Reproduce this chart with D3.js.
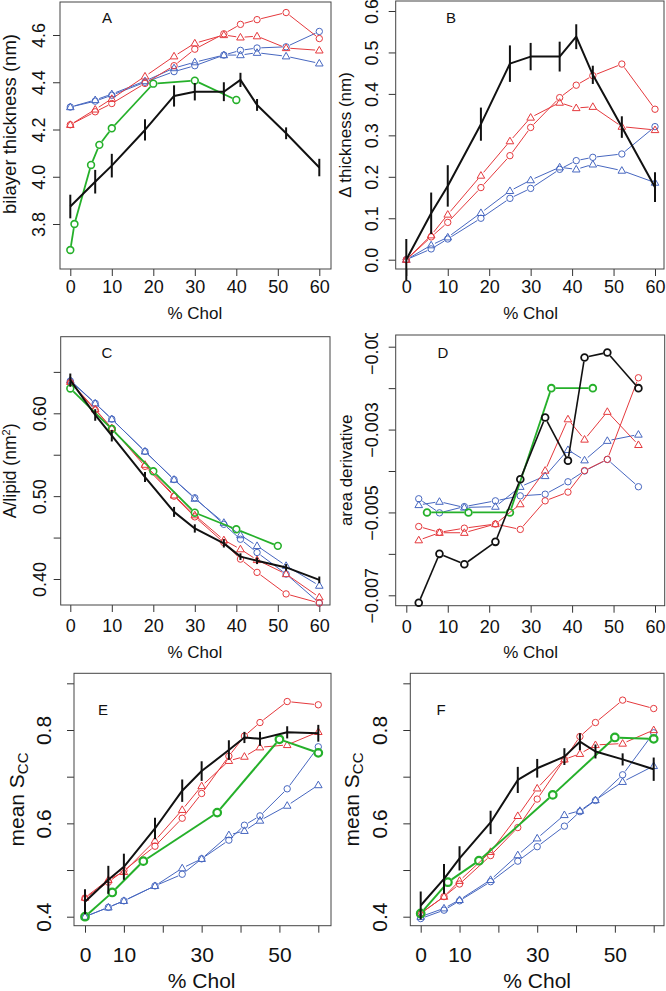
<!DOCTYPE html>
<html><head><meta charset="utf-8">
<script src="https://cdn.jsdelivr.net/npm/d3@7/dist/d3.min.js"></script>
<style>body{margin:0;background:#fff}svg{display:block}text{font-family:"Liberation Sans",Arial,sans-serif;fill:#111}</style>
</head><body>
<script>
// ---------------- DATA ----------------
const xMain = [0, 6, 10, 18, 25, 30, 37, 41, 45, 52, 60];
const xDeriv = [3, 8, 14, 21.5, 27.5, 33.5, 39, 43, 48.5, 56];

// Panel A: bilayer thickness (nm)
const aRedCirc  = [4.22, 4.275, 4.31, 4.395, 4.47, 4.54, 4.605, 4.645, 4.665, 4.695, 4.585];
const aRedTri   = [4.22, 4.285, 4.33, 4.425, 4.51, 4.565, 4.60, 4.59, 4.595, 4.545, 4.535];
const aBlueCirc = [4.295, 4.32, 4.345, 4.40, 4.445, 4.47, 4.515, 4.535, 4.545, 4.55, 4.615];
const aBlueTri  = [4.295, 4.325, 4.35, 4.405, 4.46, 4.485, 4.515, 4.515, 4.525, 4.51, 4.48];
const aBlack    = [3.874, 3.979, 4.047, 4.198, 4.342, 4.36, 4.36, 4.41, 4.304, 4.184, 4.039];
const aBlackErr = [0.05, 0.05, 0.05, 0.045, 0.045, 0.037, 0.04, 0.03, 0.025, 0.025, 0.037];
const aGreenX   = [0, 1, 5, 7, 10, 20, 30, 40];
const aGreen    = [3.69, 3.80, 4.05, 4.135, 4.205, 4.394, 4.407, 4.325];

// Panel B: delta thickness (nm)
const bRedCirc  = [0, 0.055, 0.09, 0.174, 0.251, 0.319, 0.391, 0.421, 0.444, 0.472, 0.363];
const bRedTri   = [0, 0.059, 0.109, 0.203, 0.286, 0.343, 0.379, 0.366, 0.369, 0.321, 0.313];
const bBlueCirc = [0, 0.026, 0.05, 0.10, 0.148, 0.172, 0.218, 0.239, 0.247, 0.255, 0.321];
const bBlueTri  = [0, 0.035, 0.054, 0.113, 0.166, 0.192, 0.223, 0.218, 0.23, 0.215, 0.186];
const bBlack    = [0, 0.112, 0.178, 0.327, 0.473, 0.49, 0.49, 0.538, 0.446, 0.32, 0.175];
const bBlackErr = [0.05, 0.05, 0.05, 0.04, 0.044, 0.033, 0.036, 0.03, 0.022, 0.026, 0.036];

// Panel C: area per lipid (nm^2)
const cRedCirc  = [0.637, 0.604, 0.582, 0.536, 0.50, 0.475, 0.444, 0.424, 0.408, 0.382, 0.371];
const cRedTri   = [0.638, 0.605, 0.582, 0.538, 0.501, 0.477, 0.447, 0.436, 0.423, 0.406, 0.378];
const cBlueCirc = [0.639, 0.612, 0.593, 0.554, 0.52, 0.498, 0.466, 0.448, 0.432, 0.406, 0.371];
const cBlueTri  = [0.640, 0.612, 0.593, 0.554, 0.52, 0.497, 0.468, 0.453, 0.44, 0.416, 0.392];
const cBlack    = [0.64, 0.598, 0.573, 0.523, 0.481, 0.461, 0.443, 0.427, 0.422, 0.414, 0.399];
const cBlackErr = [0.008, 0.007, 0.007, 0.006, 0.006, 0.005, 0.005, 0.004, 0.004, 0.004, 0.004];
const cGreenX   = [0, 10, 20, 30, 40, 50];
const cGreen    = [0.630, 0.581, 0.530, 0.48, 0.46, 0.44];

// Panel D: area derivative
const dRedCirc  = [-0.00534, -0.00548, -0.00538, -0.00528, -0.00541, -0.00472, -0.00451, -0.00399, -0.00372, -0.00175];
const dRedTri   = [-0.00567, -0.00549, -0.00549, -0.00528, -0.0048, -0.00399, -0.00275, -0.00324, -0.00257, -0.00337];
const dBlueCirc = [-0.00467, -0.00501, -0.00486, -0.00472, -0.0046, -0.00456, -0.00426, -0.004, -0.00372, -0.00438];
const dBlueTri  = [-0.00482, -0.00474, -0.00488, -0.00486, -0.00438, -0.00412, -0.00349, -0.00374, -0.00327, -0.00312];
const dBlack    = [-0.00718, -0.0060, -0.00625, -0.00571, -0.0042, -0.00271, -0.00375, -0.00126, -0.00114, -0.0020];
const dGreenX   = [5, 15, 25, 35, 45];
const dGreen    = [-0.005, -0.005, -0.005, -0.002, -0.002];

// Panel E: mean Scc
const eRedCirc  = [0.44, 0.474, 0.499, 0.551, 0.611, 0.664, 0.744, 0.787, 0.816, 0.861, 0.854];
const eRedTri   = [0.441, 0.479, 0.496, 0.563, 0.629, 0.68, 0.734, 0.743, 0.763, 0.768, 0.796];
const eBlueCirc = [0.40, 0.42, 0.434, 0.466, 0.491, 0.524, 0.564, 0.596, 0.616, 0.674, 0.764];
const eBlueTri  = [0.40, 0.42, 0.434, 0.466, 0.504, 0.524, 0.575, 0.584, 0.606, 0.638, 0.682];
const eBlack    = [0.432, 0.479, 0.507, 0.589, 0.67, 0.712, 0.757, 0.784, 0.781, 0.795, 0.793];
const eBlackErr = [0.027, 0.03, 0.028, 0.023, 0.024, 0.021, 0.021, 0.012, 0.015, 0.013, 0.018];
const eGreenX   = [0, 7, 15, 34, 50, 60];
const eGreen    = [0.40, 0.452, 0.519, 0.623, 0.78, 0.751];

// Panel F: mean Scc
const fRedCirc  = [0.407, 0.443, 0.47, 0.531, 0.591, 0.652, 0.737, 0.786, 0.816, 0.864, 0.846];
const fRedTri   = [0.407, 0.443, 0.477, 0.539, 0.616, 0.675, 0.737, 0.749, 0.768, 0.771, 0.80];
const fBlueCirc = [0.396, 0.414, 0.434, 0.475, 0.519, 0.55, 0.594, 0.625, 0.649, 0.704, 0.794];
const fBlueTri  = [0.40, 0.418, 0.436, 0.479, 0.532, 0.568, 0.618, 0.627, 0.65, 0.689, 0.723];
const fBlack    = [0.424, 0.481, 0.525, 0.602, 0.693, 0.718, 0.743, 0.775, 0.754, 0.737, 0.716];
const fBlackErr = [0.03, 0.032, 0.026, 0.025, 0.028, 0.02, 0.018, 0.018, 0.015, 0.013, 0.025];
const fGreenX   = [0, 7, 15, 34, 50, 60];
const fGreen    = [0.407, 0.474, 0.52, 0.661, 0.784, 0.781];

// tick definitions
const xTicksAll = [0, 10, 20, 30, 40, 50, 60];
const xLabelsE = [0, 10, 30, 50];
const aYTicks = [3.8, 4.0, 4.2, 4.4, 4.6];
const bYTicks = [0.0, 0.1, 0.2, 0.3, 0.4, 0.5, 0.6];
const cYTicks = [0.40, 0.45, 0.50, 0.55, 0.60, 0.65];
const cYLabels = [0.40, 0.50, 0.60];
const dYTicks = [-0.007, -0.006, -0.005, -0.004, -0.003, -0.002, -0.001];
const dYLabels = [-0.007, -0.005, -0.003, -0.001];
const eYTicks = [0.4, 0.5, 0.6, 0.7, 0.8, 0.9];
const eYLabels = [0.4, 0.6, 0.8];

// ---------------- STYLE ----------------
const RED = "#e5393d", BLUE = "#4767c0", GREEN = "#25b02a", BLACK = "#111";

const svg = d3.select("body").append("svg").attr("width", 666).attr("height", 991);
svg.append("defs").append("clipPath").attr("id", "clipD")
  .append("rect").attr("x", 333).attr("y", 333).attr("width", 333).attr("height", 660);

function triPath(s) {
  const h = s * Math.sqrt(3) / 2;
  return `M0,${-h * 0.6}L${s / 2},${h * 0.4}L${-s / 2},${h * 0.4}Z`;
}

function gappedLine(g, pts, gap, color, width) {
  for (let i = 0; i < pts.length - 1; i++) {
    const [x1, y1] = pts[i], [x2, y2] = pts[i + 1];
    const dx = x2 - x1, dy = y2 - y1, L = Math.hypot(dx, dy);
    if (L <= 2 * gap) continue;
    const ux = dx / L, uy = dy / L;
    g.append("line").attr("x1", x1 + ux * gap).attr("y1", y1 + uy * gap)
      .attr("x2", x2 - ux * gap).attr("y2", y2 - uy * gap)
      .attr("stroke", color).attr("stroke-width", width);
  }
}

function panel(c) {
  const g = svg.append("g");
  const x = d3.scaleLinear().domain([0, 60]).range(c.xr);
  const y = d3.scaleLinear().domain(c.yd).range(c.yr);
  const [bx0, by0, bx1, by1] = c.box;
  // axes
  const xa = g.append("g").attr("transform", `translate(0,${by1})`)
    .call(d3.axisBottom(x).tickValues(xTicksAll).tickSizeOuter(0).tickSizeInner(7)
      .tickFormat(d => (c.xLabels || xTicksAll).includes(d) ? d : ""));
  xa.select(".domain").remove();
  xa.selectAll("line").attr("stroke", "#333");
  xa.selectAll("text").attr("y", c.xTickBase).attr("dy", 0)
    .style("font-size", c.tickFont + "px").attr("fill", "#111");
  const yWrap = g.append("g");
  if (c.clip) yWrap.attr("clip-path", `url(#${c.clip})`);
  const ya = yWrap.append("g").attr("transform", `translate(${bx0},0)`)
    .call(d3.axisLeft(y).tickValues(c.yTicks).tickSizeOuter(0).tickSizeInner(7)
      .tickFormat(d => (c.yLabels || c.yTicks).some(v => Math.abs(v - d) < 1e-9) ? c.fmt(d) : ""));
  ya.select(".domain").remove();
  ya.selectAll("line").attr("stroke", "#333");
  ya.selectAll("text").attr("x", 0).attr("dy", 0).attr("text-anchor", "middle")
    .attr("transform", `translate(${-c.yTickBase},0) rotate(-90)`)
    .style("font-size", c.tickFont + "px").attr("fill", "#111");
  // box
  g.append("rect").attr("x", bx0).attr("y", by0).attr("width", bx1 - bx0).attr("height", by1 - by0)
    .attr("fill", "none").attr("stroke", "#444").attr("stroke-width", 1);
  // titles
  g.append("text").attr("x", (c.xr[0] + c.xr[1]) / 2).attr("y", c.xTitleY)
    .attr("text-anchor", "middle").style("font-size", c.titleFont + "px").text("% Chol");
  const yt = g.append("text").attr("text-anchor", "middle")
    .attr("transform", `translate(${c.yTitleX},${c.yTitleCY || (by0 + by1) / 2}) rotate(-90)`)
    .style("font-size", c.yTitleFont + "px");
  c.yTitle(yt);
  g.append("text").attr("x", c.lab[0]).attr("y", c.lab[1]).attr("text-anchor", "middle")
    .style("font-size", "15px").text(c.label);
  // series
  const gap = 4.2;
  c.series.forEach(s => {
    const pts = s.y.map((v, i) => [x(s.x[i]), y(v)]);
    const sg = g.append("g");
    if (s.type === "err") {
      sg.append("path").attr("d", d3.line()(pts)).attr("fill", "none")
        .attr("stroke", BLACK).attr("stroke-width", 2).attr("stroke-linejoin", "round");
      s.y.forEach((v, i) => {
        sg.append("line").attr("x1", x(s.x[i])).attr("x2", x(s.x[i]))
          .attr("y1", y(v - s.e[i])).attr("y2", y(v + s.e[i]))
          .attr("stroke", BLACK).attr("stroke-width", 2);
      });
      return;
    }
    gappedLine(sg, pts, s.gap || gap, s.color, s.lw);
    pts.forEach(p => {
      if (s.shape === "tri") {
        sg.append("path").attr("d", triPath(7.6)).attr("transform", `translate(${p[0]},${p[1]})`)
          .attr("fill", "none").attr("stroke", s.color).attr("stroke-width", s.mw);
      } else {
        sg.append("circle").attr("cx", p[0]).attr("cy", p[1]).attr("r", s.r || 3.2)
          .attr("fill", "none").attr("stroke", s.color).attr("stroke-width", s.mw);
      }
    });
  });
}

function std(rc, rt, bc, bt, xs) {
  xs = xs || xMain;
  return [
    {x: xs, y: bc, color: BLUE, shape: "circ", lw: 1, mw: 1},
    {x: xs, y: bt, color: BLUE, shape: "tri", lw: 1, mw: 1},
    {x: xs, y: rc, color: RED, shape: "circ", lw: 1, mw: 1},
    {x: xs, y: rt, color: RED, shape: "tri", lw: 1, mw: 1},
  ];
}
const f1 = d => d3.format(".1f")(d);
const f2 = d => d3.format(".2f")(d);
const f3 = d => d.toFixed(3).replace("-", "\u2212");

// Panel A
panel({
  box: [60, 2, 331, 269], xr: [70.3, 319.3], yd: [3.8, 4.6], yr: [224, 35],
  yTicks: aYTicks, fmt: f1, tickFont: 18, titleFont: 17, yTitleFont: 18.5,
  xTickBase: 24, yTickBase: 15, xTitleY: 319, yTitleX: 16, yTitleCY: 124, lab: [107, 23], label: "A",
  yTitle: t => t.text("bilayer thickness (nm)"),
  series: std(aRedCirc, aRedTri, aBlueCirc, aBlueTri).concat([
    {x: aGreenX, y: aGreen, color: GREEN, shape: "circ", lw: 1.8, mw: 1.6, r: 3.4},
    {x: xMain, y: aBlack, e: aBlackErr, type: "err"}])
});
// Panel B
panel({
  box: [395.7, 1, 664, 269], xr: [406.3, 655], yd: [0, 0.6], yr: [259.7, 11],
  yTicks: bYTicks, fmt: f1, tickFont: 18, titleFont: 17, yTitleFont: 17,
  xTickBase: 24, yTickBase: 18, xTitleY: 319, yTitleX: 351, lab: [451, 23], label: "B",
  yTitle: t => t.text("\u0394 thickness (nm)"),
  series: std(bRedCirc, bRedTri, bBlueCirc, bBlueTri).concat([
    {x: xMain, y: bBlack, e: bBlackErr, type: "err"}])
});
// Panel C
panel({
  box: [60.7, 336.7, 330, 605], xr: [70.3, 319.3], yd: [0.40, 0.60], yr: [579, 413.3],
  yTicks: cYTicks, yLabels: cYLabels, fmt: f2, tickFont: 18, titleFont: 17, yTitleFont: 17.5,
  xTickBase: 27, yTickBase: 15, xTitleY: 658, yTitleX: 16, lab: [107, 358], label: "C",
  yTitle: t => { t.append("tspan").text("A/lipid (nm");
    t.append("tspan").attr("dy", -6).style("font-size", "11px").text("2");
    t.append("tspan").attr("dy", 6).text(")"); },
  series: std(cRedCirc, cRedTri, cBlueCirc, cBlueTri).concat([
    {x: cGreenX, y: cGreen, color: GREEN, shape: "circ", lw: 1.8, mw: 1.6, r: 3.4},
    {x: xMain, y: cBlack, e: cBlackErr, type: "err"}])
});
// Panel D
panel({
  box: [395.7, 335, 664.7, 605.7], xr: [406.3, 655], yd: [-0.007, -0.001], yr: [595.3, 346.7],
  yTicks: dYTicks, yLabels: dYLabels, fmt: f3, tickFont: 18, titleFont: 17, yTitleFont: 17,
  xTickBase: 27, yTickBase: 18, xTitleY: 658, yTitleX: 352, lab: [443, 358], label: "D", clip: "clipD",
  yTitle: t => t.text("area derivative"),
  series: std(dRedCirc, dRedTri, dBlueCirc, dBlueTri, xDeriv).concat([
    {x: dGreenX, y: dGreen, color: GREEN, shape: "circ", lw: 1.8, mw: 1.8, r: 3.4},
    {x: xDeriv, y: dBlack, color: BLACK, shape: "circ", lw: 1.6, mw: 1.8, r: 3.4}])
});
// Panel E
panel({
  box: [74, 673.3, 331, 925.7], xr: [85, 318.3], yd: [0.4, 0.8], yr: [916.7, 730],
  yTicks: eYTicks, yLabels: eYLabels, xLabels: xLabelsE, fmt: f1, tickFont: 21, titleFont: 21, yTitleFont: 21,
  xTickBase: 36, yTickBase: 23, xTitleY: 988, yTitleX: 24, lab: [103, 715], label: "E",
  yTitle: t => { t.append("tspan").text("mean S");
    t.append("tspan").attr("dy", 4).style("font-size", "15px").text("CC"); },
  series: std(eRedCirc, eRedTri, eBlueCirc, eBlueTri).concat([
    {x: eGreenX, y: eGreen, color: GREEN, shape: "circ", lw: 2, mw: 2.2, r: 3.8, gap: 4.8},
    {x: xMain, y: eBlack, e: eBlackErr, type: "err"}])
});
// Panel F
panel({
  box: [410.3, 673.3, 664, 925.7], xr: [420.7, 653.7], yd: [0.4, 0.8], yr: [916.7, 730],
  yTicks: eYTicks, yLabels: eYLabels, xLabels: xLabelsE, fmt: f1, tickFont: 21, titleFont: 21, yTitleFont: 21,
  xTickBase: 36, yTickBase: 23, xTitleY: 988, yTitleX: 359, lab: [441, 715], label: "F",
  yTitle: t => { t.append("tspan").text("mean S");
    t.append("tspan").attr("dy", 4).style("font-size", "15px").text("CC"); },
  series: std(fRedCirc, fRedTri, fBlueCirc, fBlueTri).concat([
    {x: fGreenX, y: fGreen, color: GREEN, shape: "circ", lw: 2, mw: 2.2, r: 3.8, gap: 4.8},
    {x: xMain, y: fBlack, e: fBlackErr, type: "err"}])
});
</script>
</body></html>
